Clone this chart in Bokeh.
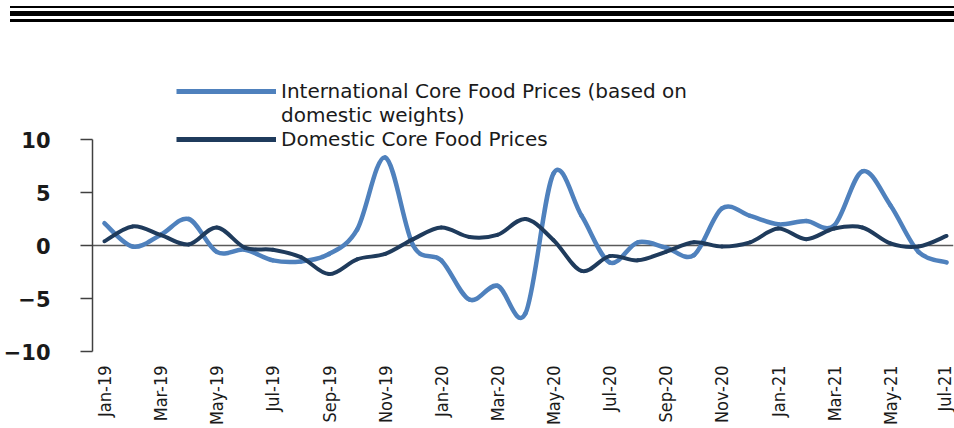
import math
from bokeh.plotting import figure
from bokeh.models import Span, Legend, LegendItem, FixedTicker, Div, Range1d
from bokeh.layouts import column
from bokeh.embed import file_html
from bokeh.resources import INLINE

# ---------------- data ----------------
months = ["Jan-19", "Feb-19", "Mar-19", "Apr-19", "May-19", "Jun-19", "Jul-19", "Aug-19",
          "Sep-19", "Oct-19", "Nov-19", "Dec-19", "Jan-20", "Feb-20", "Mar-20", "Apr-20",
          "May-20", "Jun-20", "Jul-20", "Aug-20", "Sep-20", "Oct-20", "Nov-20", "Dec-20",
          "Jan-21", "Feb-21", "Mar-21", "Apr-21", "May-21", "Jun-21", "Jul-21"]
intl = [2.1, -0.1, 1.0, 2.5, -0.6, -0.4, -1.4, -1.5, -0.8, 1.5,
        8.3, 0.0, -1.4, -5.1, -3.8, -6.4, 6.8, 2.8, -1.6, 0.3,
        -0.2, -0.9, 3.5, 2.8, 2.0, 2.3, 1.9, 7.0, 3.8, -0.6, -1.6]
dom = [0.4, 1.8, 1.0, 0.1, 1.7, -0.2, -0.4, -1.1, -2.7, -1.3,
       -0.8, 0.6, 1.7, 0.8, 1.0, 2.5, 0.5, -2.4, -1.0, -1.4,
       -0.6, 0.3, -0.1, 0.3, 1.6, 0.6, 1.6, 1.7, 0.2, -0.1, 0.9]
y_ticks = [-10, -5, 0, 5, 10]
label_intl_1 = "International Core Food Prices (based on"
label_intl_2 = "domestic weights)"
label_dom = "Domestic Core Food Prices"

C_INTL = "#4F81BD"
C_DOM = "#1F3B5C"
TXT = "#1a1a1a"


def smooth_segments(ys):
    """Catmull-Rom style cubic Bezier segments through the data points."""
    n = len(ys)
    xs = list(range(n))
    d = dict(x0=[], y0=[], x1=[], y1=[], cx0=[], cy0=[], cx1=[], cy1=[])
    for i in range(n - 1):
        xm, ym = (xs[i - 1], ys[i - 1]) if i > 0 else (xs[i], ys[i])
        xp, yp = (xs[i + 2], ys[i + 2]) if i + 2 < n else (xs[i + 1], ys[i + 1])
        d["x0"].append(xs[i]); d["y0"].append(ys[i])
        d["x1"].append(xs[i + 1]); d["y1"].append(ys[i + 1])
        d["cx0"].append(xs[i] + (xs[i + 1] - xm) / 6.0)
        d["cy0"].append(ys[i] + (ys[i + 1] - ym) / 6.0)
        d["cx1"].append(xs[i + 1] - (xp - xs[i]) / 6.0)
        d["cy1"].append(ys[i + 1] - (yp - ys[i]) / 6.0)
    return d


# geometry (px)
FRAME_TOP = 46          # frame top inside figure (room for legend)
AXIS_TOP_PX = 115       # where the value 10 sits inside the figure
FRAME_BOTTOM = 327
px_per_unit = (FRAME_BOTTOM - AXIS_TOP_PX) / 20.0
y_top = 10 + (AXIS_TOP_PX - FRAME_TOP) / px_per_unit

p = figure(width=954, height=404, output_backend="svg", toolbar_location=None,
           x_range=Range1d(-0.4255, 30.248), y_range=Range1d(-10, y_top),
           min_border_left=88, min_border_right=1, min_border_top=FRAME_TOP,
           min_border_bottom=404 - FRAME_BOTTOM, margin=0)
p.outline_line_color = None
p.xgrid.visible = False
p.ygrid.visible = False
p.background_fill_color = "white"

zero = Span(location=0, dimension="width", line_color="#595959", line_width=1.5, level="underlay")
p.add_layout(zero)

si = smooth_segments(intl)
sd = smooth_segments(dom)
p.bezier(x0="x0", y0="y0", x1="x1", y1="y1", cx0="cx0", cy0="cy0", cx1="cx1", cy1="cy1",
         source=si, line_color=C_INTL, line_width=4.5, line_cap="round")
p.bezier(x0="x0", y0="y0", x1="x1", y1="y1", cx0="cx0", cy0="cy0", cx1="cx1", cy1="cy1",
         source=sd, line_color=C_DOM, line_width=4, line_cap="round")

# legend sample renderers (draw nothing in the plot)
nan = float("nan")
r_li = p.line(x=[0], y=[nan], line_color=C_INTL, line_width=5)
r_blank = p.line(x=[0], y=[nan], line_alpha=0)
r_ld = p.line(x=[0], y=[nan], line_color=C_DOM, line_width=5)


def make_legend(label, renderer, vy):
    lg = Legend(items=[LegendItem(label=label, renderers=[renderer])], location=(84, vy))
    lg.border_line_color = None
    lg.background_fill_alpha = 0
    lg.padding = 0
    lg.margin = 0
    lg.spacing = 0
    lg.glyph_width = 100
    lg.glyph_height = 20
    lg.label_height = 20
    lg.label_standoff = 5
    lg.label_text_font = "DejaVu Sans"
    lg.label_text_font_size = "20px"
    lg.label_text_color = TXT
    return lg


p.add_layout(make_legend(label_intl_1, r_li, 248))
p.add_layout(make_legend(label_intl_2, r_blank, 224))
p.add_layout(make_legend(label_dom, r_ld, 200))

# y axis
p.yaxis.ticker = FixedTicker(ticks=y_ticks)
p.yaxis.bounds = (-10, 10)
p.yaxis.axis_line_color = "#404040"
p.yaxis.axis_line_width = 1.5
p.yaxis.major_tick_line_color = "#404040"
p.yaxis.major_tick_line_width = 1.5
p.yaxis.major_tick_out = 12
p.yaxis.major_tick_in = 0
p.yaxis.minor_tick_line_color = None
p.yaxis.major_label_standoff = 30
p.yaxis.major_label_text_font = "DejaVu Sans"
p.yaxis.major_label_text_font_style = "bold"
p.yaxis.major_label_text_font_size = "21px"
p.yaxis.major_label_text_color = TXT

# x axis
tick_idx = list(range(0, len(months), 2))
p.xaxis.ticker = FixedTicker(ticks=tick_idx)
p.xaxis.major_label_overrides = {i: months[i] for i in tick_idx}
p.xaxis.axis_line_color = None
p.xaxis.major_tick_line_color = None
p.xaxis.minor_tick_line_color = None
p.xaxis.major_tick_out = 0
p.xaxis.major_tick_in = 0
p.xaxis.major_label_orientation = math.pi / 2
p.xaxis.major_label_standoff = 14
p.xaxis.major_label_text_font = "'Liberation Sans Narrow', 'DejaVu Sans Condensed', sans-serif"
p.xaxis.major_label_text_font_size = "18px"
p.xaxis.major_label_text_color = TXT

rules_html = ('<div style="width:944px;margin-left:10px;line-height:0;font-size:0">'
              '<div style="height:6px"></div>'
              '<div style="height:2px;background:#000"></div>'
              '<div style="height:3px"></div>'
              '<div style="height:5px;background:#000"></div>'
              '<div style="height:3px"></div>'
              '<div style="height:3px;background:#000"></div></div>')
rules = Div(text=rules_html, width=954, height=24, margin=0)

layout = column(rules, p, spacing=0)
open("out.html", "w").write(file_html(layout, INLINE))
